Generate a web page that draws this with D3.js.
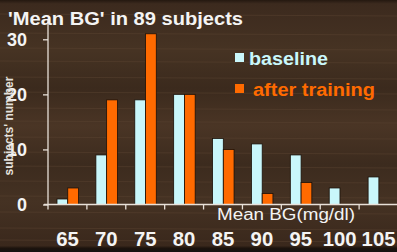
<!DOCTYPE html>
<html><head><meta charset="utf-8">
<script src="https://cdn.jsdelivr.net/npm/d3@7"></script>
<style>html,body{margin:0;padding:0;background:#3a291d;overflow:hidden}</style>
</head><body><svg id="c" width="397" height="252"></svg>
<script>
const categories = ["65","70","75","80","85","90","95","100","105"];
const seriesNames = ["baseline","after training"];
const baseline = [1,9,19,20,12,11,9,3,5];
const afterTraining = [3,19,31,20,10,2,4,0,0];
const yTicks = [0,10,20,30];
const colors = ["#c9f7fb","#ff6a00"];

const svg = d3.select("#c");
const FONT = "Liberation Sans, Arial, sans-serif";
// wood-like background
const defs = svg.append("defs");
const g1 = defs.append("linearGradient").attr("id","wood").attr("x1",0).attr("y1",0).attr("x2",0).attr("y2",1);
const stops = [[0,"#241810"],[0.015,"#3c2a1e"],[0.2,"#463323"],[0.35,"#3b2a1d"],[0.5,"#4a3525"],[0.65,"#3c2b1e"],[0.8,"#453223"],[0.975,"#3a281c"],[0.985,"#1c130d"],[1,"#141010"]];
stops.forEach(s=>g1.append("stop").attr("offset",s[0]).attr("stop-color",s[1]));
svg.append("rect").attr("width",397).attr("height",252).attr("fill","url(#wood)");
const streaks = [14,33,48,61,77,92,108,121,137,152,166,181,196,212,228,240];
svg.append("g").selectAll("line").data(streaks).join("line")
  .attr("x1",0).attr("x2",397).attr("y1",d=>d).attr("y2",d=>d+2)
  .attr("stroke","#5a4331").attr("stroke-width",1).attr("opacity",0.5);

const x = d3.scaleBand().domain(categories).range([48,398]).padding(0);
const x1 = d3.scaleBand().domain(seriesNames).range([9,30.5]).padding(0);
const y = d3.scaleLinear().domain([0,30]).range([204.5,39.3]);

const data = categories.map((c,i)=>({cat:c, vals:[baseline[i],afterTraining[i]]}));

// bars
const grp = svg.append("g").selectAll("g").data(data).join("g")
  .attr("transform",d=>`translate(${x(d.cat)},0)`);
grp.selectAll("rect").data(d=>d.vals.map((v,j)=>({v,j}))).join("rect")
  .attr("x",d=>x1(seriesNames[d.j]))
  .attr("width",x1.bandwidth())
  .attr("y",d=>y(d.v))
  .attr("height",d=>y(0)-y(d.v))
  .attr("fill",d=>colors[d.j])
  .attr("stroke","#1a1008").attr("stroke-width",0.8)
  .attr("display",d=>d.v>0?null:"none");

const axisColor = "#e8e0d8";
// y axis
svg.append("line").attr("x1",48).attr("x2",48).attr("y1",20).attr("y2",y(0))
  .attr("stroke",axisColor).attr("stroke-width",1.3);
const yAxis = svg.append("g").attr("transform","translate(48,0)")
  .call(d3.axisLeft(y).tickValues(yTicks).tickSize(5).tickPadding(16));
yAxis.select(".domain").remove();
yAxis.selectAll(".tick line").attr("stroke",axisColor).attr("stroke-width",1.3);
yAxis.selectAll(".tick text").attr("fill","#f4f4f4").attr("font-family",FONT)
  .attr("font-weight","bold").attr("font-size",18).attr("dy","0.35em");

// x axis
svg.append("line").attr("x1",44).attr("x2",397).attr("y1",y(0)).attr("y2",y(0))
  .attr("stroke",axisColor).attr("stroke-width",1.3);
svg.append("g").selectAll("line").data(categories).join("line")
  .attr("x1",d=>x(d)).attr("x2",d=>x(d)).attr("y1",y(0)).attr("y2",y(0)+5)
  .attr("stroke",axisColor).attr("stroke-width",1.3);
const xAxis = svg.append("g").attr("transform",`translate(0,${y(0)})`)
  .call(d3.axisBottom(x).tickSize(0).tickPadding(0));
xAxis.select(".domain").remove();
xAxis.selectAll(".tick text").attr("fill","#f4f4f4").attr("font-family",FONT)
  .attr("font-weight","bold").attr("font-size",20).attr("dy",0).attr("y",41)
  .attr("textLength",d=>d.length*11.3).attr("lengthAdjust","spacingAndGlyphs");

// labels
svg.append("text").attr("x",8).attr("y",25).text("'Mean BG' in 89 subjects")
  .attr("fill","#f4f4f4").attr("font-family",FONT)
  .attr("font-weight","bold").attr("font-size",18)
  .attr("textLength",235).attr("lengthAdjust","spacingAndGlyphs");
svg.append("text").attr("x",217).attr("y",220).text("Mean BG(mg/dl)")
  .attr("fill","#f4f4f4").attr("font-family",FONT)
  .attr("font-size",16).attr("textLength",138).attr("lengthAdjust","spacingAndGlyphs");
svg.append("text").attr("transform","translate(13,126) rotate(-90)").attr("text-anchor","middle")
  .text("subjects' number").attr("fill","#e4e0dc").attr("font-family",FONT)
  .attr("font-weight","bold").attr("font-size",12);

// legend
const leg = svg.append("g");
const legY = [58, 89];
const legX = [249, 253];
const legW = [79, 122];
seriesNames.forEach((s,i)=>{
  leg.append("rect").attr("x",235).attr("y",legY[i]-5).attr("width",9).attr("height",9).attr("fill",colors[i]);
  leg.append("text").attr("x",legX[i]).attr("y",legY[i]+7).text(s)
    .attr("fill",colors[i]).attr("font-family",FONT)
    .attr("font-weight","bold").attr("font-size",18)
    .attr("textLength",legW[i]).attr("lengthAdjust","spacingAndGlyphs");
});
</script></body></html>
